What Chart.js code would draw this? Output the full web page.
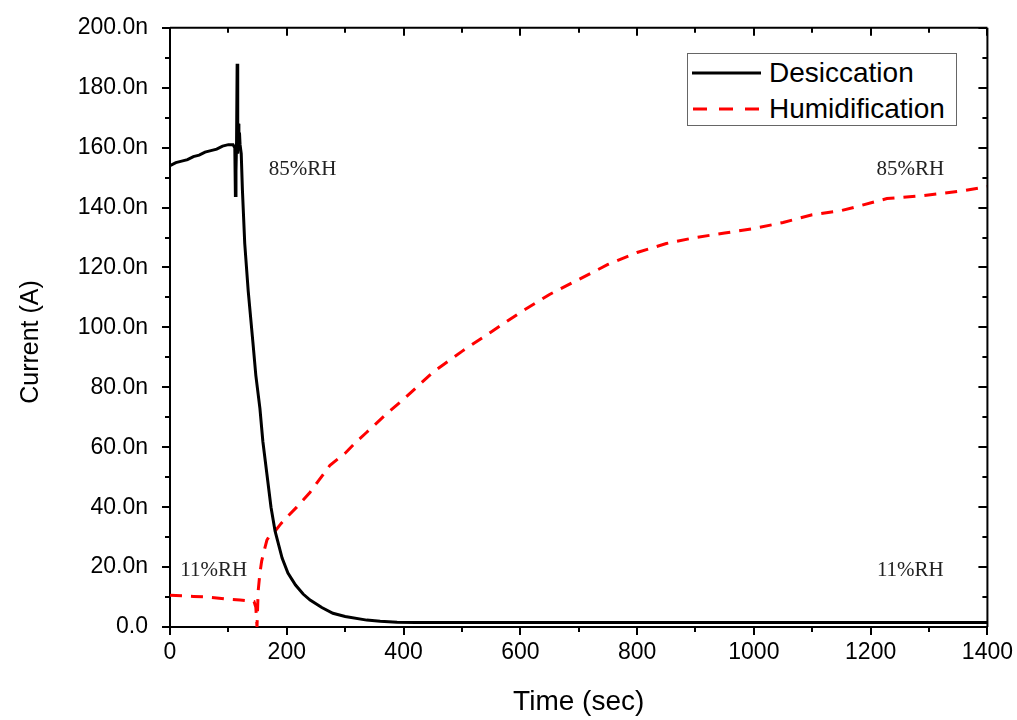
<!DOCTYPE html>
<html>
<head>
<meta charset="utf-8">
<script src="https://cdn.jsdelivr.net/npm/chart.js@4"></script>
<style>
  body { margin: 0; background: #fff; }
  #wrap { position: relative; width: 1017px; height: 720px; }
  #legend {
    position: absolute; left: 687px; top: 53px; width: 268px; height: 71px;
    border: 1px solid #666; background: #fff;
    font-family: 'Liberation Sans', Arial, sans-serif; font-size: 28px; color: #000;
  }
  .row { position: absolute; left: 0; height: 34px; display: flex; align-items: center; }
  .row svg { margin-left: 4px; margin-right: 7px; }
</style>
</head>
<body>
<div id="wrap">
  <canvas id="chart" width="1017" height="720"></canvas>
  <div id="legend">
    <div class="row" style="top:2px">
      <svg width="70" height="6"><line x1="0" y1="3" x2="69" y2="3" stroke="#000" stroke-width="3"/></svg>
      <span>Desiccation</span>
    </div>
    <div class="row" style="top:38px">
      <svg width="70" height="6"><line x1="1" y1="3" x2="69" y2="3" stroke="#f00" stroke-width="3" stroke-dasharray="14 12"/></svg>
      <span>Humidification</span>
    </div>
  </div>
</div>
<script>
  // ── 데이터 ──────────────────────────────────────────────────────────
  const descT = [0, 10, 20, 30, 40, 50, 60, 70, 80, 90, 100, 108, 111, 112, 113, 114, 115, 116, 117, 118,
    119, 120, 122, 124, 128, 134, 142, 147, 154, 159, 166, 173, 180, 192, 202, 215, 228, 240, 260, 279,
    300, 337, 360, 389, 420, 500, 700, 1000, 1400];
  const descI = [154, 155, 155.5, 156, 157, 157.5, 158.5, 159, 159.5, 160.5, 161, 161, 160, 144, 152, 162,
    188, 158, 168, 162, 165, 161, 158, 146, 128, 112, 95, 84, 73, 62, 51, 40, 32, 23, 18, 14, 11, 9, 6.5,
    4.6, 3.5, 2.3, 1.9, 1.6, 1.5, 1.5, 1.5, 1.5, 1.5];

  const humT = [0, 20, 40, 63, 80, 98, 120, 137, 144, 147, 149, 151, 154, 157, 162, 166, 172, 180, 190,
    202, 217, 240, 274, 300, 320, 337, 370, 400, 450, 500, 550, 600, 650, 700, 750, 800, 850, 900, 950,
    1000, 1050, 1100, 1150, 1182, 1228, 1290, 1359, 1400];
  const humI = [10.6, 10.4, 10.2, 10, 9.7, 9.3, 9, 8.7, 8.5, 6.6, 0, 12, 18, 22, 26, 29, 31, 32, 34.5,
    37, 40, 45, 54, 58, 62, 65, 71, 76, 85, 92, 98.5, 105, 111, 116, 121, 125, 128, 130, 131.5, 133, 135,
    137.6, 139, 140.6, 143, 144, 145.6, 147];

  const xTicks = [0, 200, 400, 600, 800, 1000, 1200, 1400];
  const yTicks = [0, 20, 40, 60, 80, 100, 120, 140, 160, 180, 200];

  const annoText = ['85%RH', '85%RH', '11%RH', '11%RH'];
  const annoX = [227, 1268, 75, 1268];
  const annoY = [152.7, 152.7, 18.9, 18.9];

  const toXY = (ts, vs) => ts.map((t, i) => ({ x: t, y: vs[i] }));

  // ── 프레임 / 보조 눈금 / 주석 ───────────────────────────────────────
  const framePlugin = {
    id: 'frame',
    afterDraw(chart) {
      const { ctx, chartArea: a, scales: { x, y } } = chart;
      ctx.save();
      ctx.strokeStyle = '#000';
      ctx.lineWidth = 2;
      ctx.beginPath();
      ctx.moveTo(a.left, a.top); ctx.lineTo(a.right, a.top);
      ctx.moveTo(a.right, a.top); ctx.lineTo(a.right, a.bottom);
      // x 눈금 (위쪽 안쪽, 아래쪽 보조)
      for (let v = 0; v <= 1400; v += 100) {
        const px = Math.round(x.getPixelForValue(v));
        const major = v % 200 === 0;
        ctx.moveTo(px, a.top); ctx.lineTo(px, a.top + (major ? 8 : 5));
        if (!major) { ctx.moveTo(px, a.bottom); ctx.lineTo(px, a.bottom + 5); }
      }
      // y 눈금 (오른쪽 안쪽, 왼쪽 보조)
      for (let v = 0; v <= 200; v += 10) {
        const py = Math.round(y.getPixelForValue(v));
        const major = v % 20 === 0;
        ctx.moveTo(a.right, py); ctx.lineTo(a.right - (major ? 9 : 5), py);
        if (!major) { ctx.moveTo(a.left, py); ctx.lineTo(a.left - 5, py); }
      }
      ctx.stroke();

      // y축 제목
      ctx.fillStyle = '#000';
      ctx.font = '25px "Liberation Sans", Arial, sans-serif';
      ctx.textAlign = 'center';
      ctx.textBaseline = 'middle';
      ctx.save();
      ctx.translate(31, 342);
      ctx.rotate(-Math.PI / 2);
      ctx.fillText('Current (A)', 0, 0);
      ctx.restore();

      ctx.fillStyle = '#222';
      ctx.font = '21px "Liberation Serif", "Times New Roman", serif';
      annoText.forEach((t, i) => {
        ctx.fillText(t, x.getPixelForValue(annoX[i]), y.getPixelForValue(annoY[i]));
      });
      ctx.restore();
    }
  };

  const tickFont = { family: "'Liberation Sans', Arial, sans-serif", size: 23 };
  const titleFont = { family: "'Liberation Sans', Arial, sans-serif", size: 28 };

  new Chart(document.getElementById('chart'), {
    type: 'line',
    data: {
      datasets: [
        {
          label: 'Desiccation', data: toXY(descT, descI),
          borderColor: '#000', borderWidth: 3, pointRadius: 0, tension: 0, fill: false
        },
        {
          label: 'Humidification', data: toXY(humT, humI),
          borderColor: '#f00', borderWidth: 3, borderDash: [12, 9], pointRadius: 0, tension: 0, fill: false
        }
      ]
    },
    options: {
      responsive: false,
      animation: false,
      devicePixelRatio: 1,
      layout: { padding: { top: 24, right: 28, left: 0, bottom: 0 } },
      plugins: { legend: { display: false }, tooltip: { enabled: false } },
      scales: {
        x: {
          type: 'linear', min: 0, max: 1400,
          afterBuildTicks: (s) => { s.ticks = xTicks.map(v => ({ value: v })); },
          afterFit: (s) => { s.height = 93; },
          ticks: { font: tickFont, color: '#000', padding: 4, maxRotation: 0, callback: (v) => String(v) },
          grid: { drawOnChartArea: false, tickLength: 8, color: '#000', lineWidth: 2 },
          border: { color: '#000', width: 2 },
          title: { display: true, text: 'Time (sec)', font: titleFont, color: '#000', padding: { top: 0, bottom: 1 } }
        },
        y: {
          type: 'linear', min: 0, max: 200,
          afterBuildTicks: (s) => { s.ticks = yTicks.map(v => ({ value: v })); },
          afterFit: (s) => { s.width = 170; },
          ticks: {
            font: tickFont, color: '#000', padding: 14,
            callback: (v) => v === 0 ? '0.0' : v.toFixed(1) + 'n'
          },
          grid: { drawOnChartArea: false, tickLength: 8, color: '#000', lineWidth: 2 },
          border: { color: '#000', width: 2 }
        }
      }
    },
    plugins: [framePlugin]
  });
</script>
</body>
</html>
